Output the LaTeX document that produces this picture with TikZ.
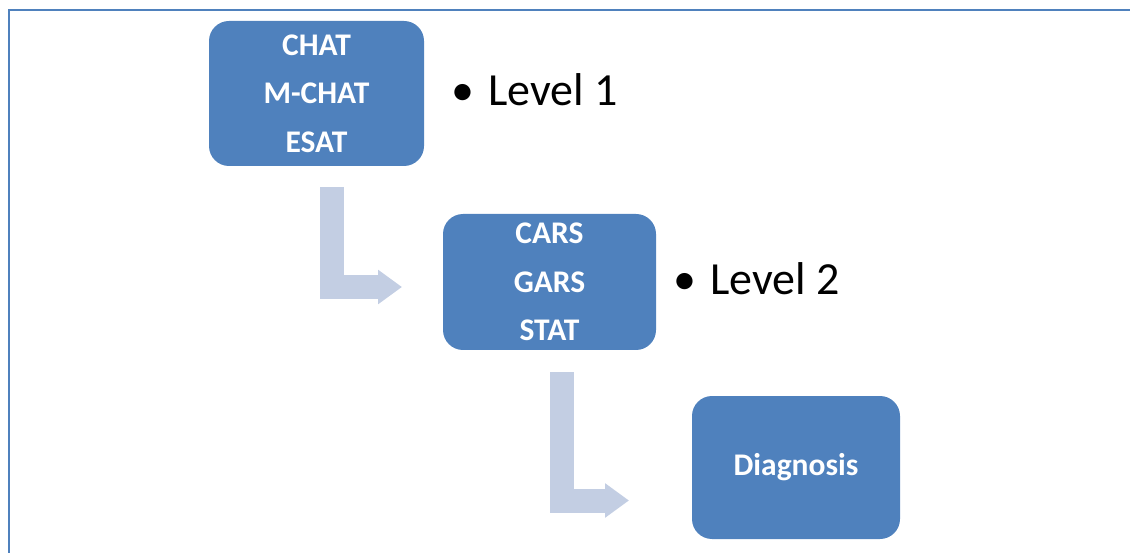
\documentclass[tikz,border=0pt]{standalone}
\usepackage{fontspec}
\setmainfont{Carlito}
\usetikzlibrary{arrows.meta}
\definecolor{boxblue}{HTML}{4F81BD}
\definecolor{arrowblue}{RGB}{195,206,227}
\tikzset{
  stage/.style={fill=boxblue, draw=none, rounded corners=20pt, text=white,
    font=\fontsize{31.5}{48.5}\selectfont\bfseries, align=center, inner sep=0pt},
  level/.style={anchor=base west, inner sep=0pt, font=\fontsize{46}{54}\selectfont},
  flow/.style={draw=arrowblue, line width=24pt, line join=miter,
    -{Triangle[width=33pt,length=24pt]}},
  frame/.style={draw=boxblue, line width=2.4pt}
}
\begin{document}
\begin{tikzpicture}[x=1pt,y=-1pt]
  \useasboundingbox (0,0) rectangle (1130,553);
  % outer frame: top and left edges only
  \coordinate (ftop) at (1131,10);
  \coordinate (fcorner) at (9,10);
  \coordinate (fbottom) at (9,554);
  \draw[frame] (ftop) -- (fcorner) -- (fbottom);

  % screening stages
  \node[stage, minimum width=215pt, minimum height=145pt] (s1) at (316.5,93.5)
    {CHAT\\M-CHAT\\ESAT};
  \node[stage, minimum width=213pt, minimum height=136pt] (s2) at (549.5,282)
    {CARS\\GARS\\STAT};
  \node[stage, minimum width=208pt, minimum height=143pt] (s3) at (796,467.5)
    {Diagnosis};

  % level labels
  \node[level] (l1) at (451,106) {•\hspace{14pt}Level 1};
  \node[level] (l2) at (673,295) {•\hspace{14pt}Level 2};

  % bent arrows between stages
  \coordinate (a1s) at (332,187);
  \coordinate (a1e) at (402,287);
  \coordinate (a2s) at (562,372);
  \coordinate (a2e) at (629,500.5);
  \draw[flow] (a1s) |- (a1e);
  \draw[flow] (a2s) |- (a2e);
\end{tikzpicture}
\end{document}
